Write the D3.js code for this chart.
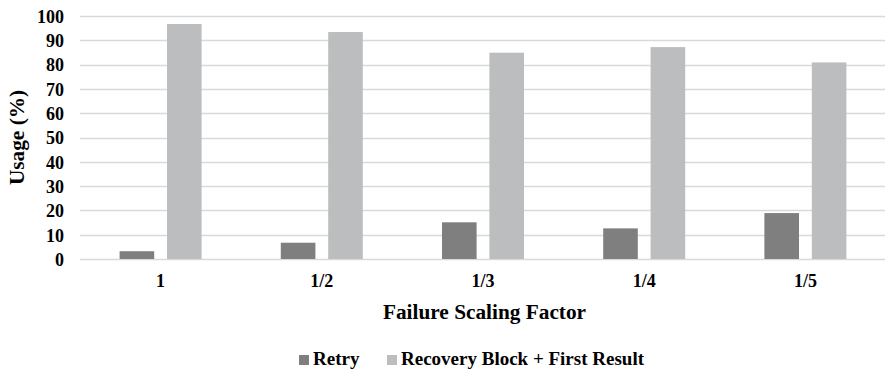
<!DOCTYPE html>
<html>
<head>
<meta charset="utf-8">
<script src="https://cdn.jsdelivr.net/npm/d3@7"></script>
</head>
<body style="margin:0">
<svg id="chart" width="886" height="371" font-family="Liberation Serif" font-weight="bold"></svg>
<script>
const categories = ["1", "1/2", "1/3", "1/4", "1/5"];
const seriesNames = ["Retry", "Recovery Block + First Result"];
const retry = [3.2, 6.7, 15.1, 12.6, 18.9];
const recoveryFirst = [96.7, 93.4, 84.9, 87.2, 80.9];
const yTicks = [0, 10, 20, 30, 40, 50, 60, 70, 80, 90, 100];
const colors = ["#7f7f7f", "#bcbdbe"];

function styleText(sel, size) {
  return sel.attr("font-family", "Liberation Serif").attr("font-weight", "bold")
    .attr("font-size", size).attr("fill", "#000");
}

const svg = d3.select("#chart");
const plotLeft = 80, plotRight = 886, plotTop = 16, plotBottom = 259;

const x = d3.scaleBand().domain(categories).range([plotLeft, plotRight]);
const y = d3.scaleLinear().domain([0, 100]).range([plotBottom, plotTop]);

// horizontal gridlines
svg.append("g")
  .selectAll("line")
  .data(yTicks)
  .join("line")
  .attr("x1", plotLeft).attr("x2", plotRight - 1)
  .attr("y1", d => Math.round(y(d)) + 0.5).attr("y2", d => Math.round(y(d)) + 0.5)
  .attr("stroke", "#d9d9d9").attr("stroke-width", 1.3);

// y axis tick labels
const gy = svg.append("g").attr("transform", "translate(64,0)")
  .call(d3.axisLeft(y).tickValues(yTicks).tickSize(0).tickPadding(0));
gy.select(".domain").remove();
gy.attr("font-family", "Liberation Serif").attr("font-size", 18);
styleText(gy.selectAll("text"), 18).attr("dy", "0.35em");

// clustered bars: two series side by side within each category
const groupWidth = 82;
const inner = d3.scaleBand().domain([0, 1]).range([0, groupWidth]).paddingInner(0.27);
const barData = categories.flatMap((c, i) => [
  { c, s: 0, v: retry[i] },
  { c, s: 1, v: recoveryFirst[i] }
]);
svg.append("g")
  .selectAll("rect")
  .data(barData)
  .join("rect")
  .attr("x", d => x(d.c) + x.bandwidth() / 2 - groupWidth / 2 + inner(d.s))
  .attr("width", inner.bandwidth())
  .attr("y", d => y(d.v))
  .attr("height", d => y(0) - y(d.v))
  .attr("fill", d => colors[d.s]);

// x axis tick labels
const gx = svg.append("g").attr("transform", "translate(0,287)")
  .call(d3.axisBottom(x).tickSize(0).tickPadding(0));
gx.select(".domain").remove();
gx.attr("font-family", "Liberation Serif").attr("font-size", 18);
styleText(gx.selectAll("text"), 18).attr("dy", "0").attr("y", 0);

// axis titles
styleText(svg.append("text"), 21.3)
  .attr("x", 484.5).attr("y", 319)
  .attr("text-anchor", "middle")
  .text("Failure Scaling Factor");

styleText(svg.append("text"), 21.3)
  .attr("transform", `translate(24,${(plotTop + plotBottom) / 2}) rotate(-90)`)
  .attr("text-anchor", "middle")
  .text("Usage (%)");

// legend
const legendX = [299, 387];
seriesNames.forEach((name, i) => {
  svg.append("rect").attr("x", legendX[i]).attr("y", 355)
    .attr("width", 10).attr("height", 10).attr("fill", colors[i]);
  styleText(svg.append("text"), 19)
    .attr("x", legendX[i] + 14).attr("y", 364.5)
    .text(name);
});
</script>
</body>
</html>
